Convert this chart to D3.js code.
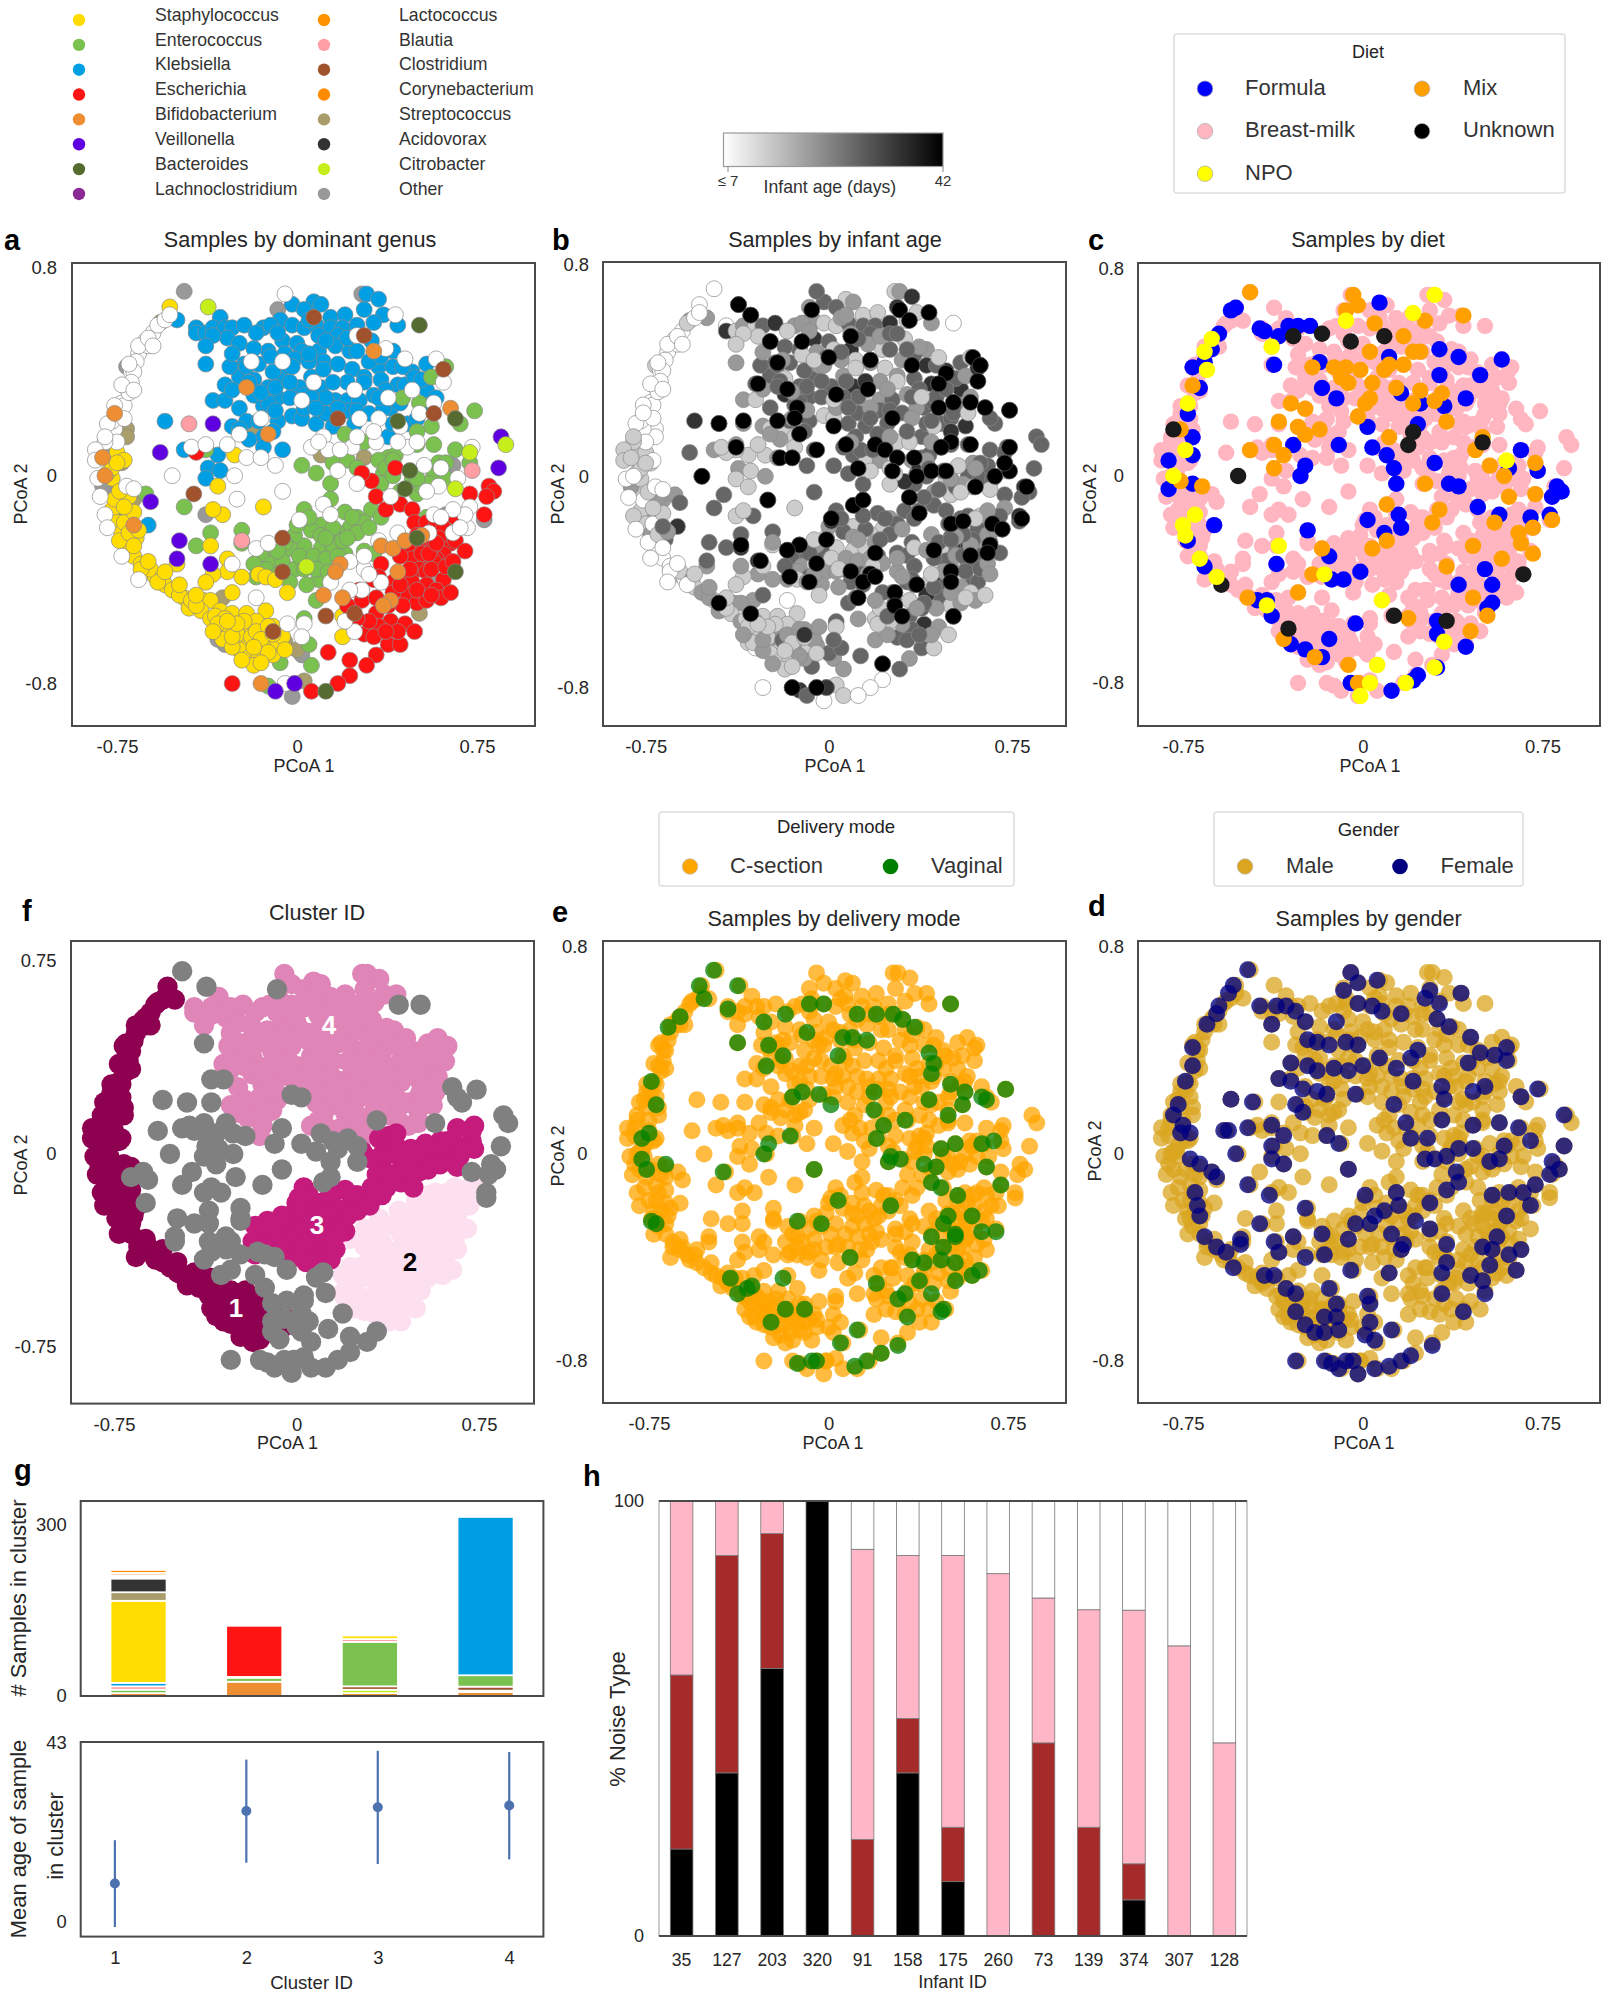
<!DOCTYPE html>
<html>
<head>
<meta charset="utf-8">
<script src="https://d3js.org/d3.v7.min.js"></script>
<style>
  body { margin: 0; background: #fff; }
  text { font-family: "Liberation Sans", Arial, sans-serif; fill: #262626; }
</style>
</head>
<body>
<svg id="fig" width="1620" height="1995"></svg>
<script>
// genus legend
const genusNames = ["Staphylococcus","Enterococcus","Klebsiella","Escherichia","Bifidobacterium","Veillonella","Bacteroides","Lachnoclostridium",
  "Lactococcus","Blautia","Clostridium","Corynebacterium","Streptococcus","Acidovorax","Citrobacter","Other"];
const genusColors = ["#ffdd00","#7ac14f","#009fe3","#ff1414","#ee8e33","#5f00e0","#556b2f","#8b2a96",
  "#ff9200","#ff9fa5","#a0522d","#ff8c00","#a89d6b","#333333","#c6ee1b","#999999"];

// samples by dominant genus: [PCoA1, PCoA2, age in weeks, cluster id (0 = none)]
const klebsiella = [[.29,.70,3,4],[.34,.68,5,4],[-.02,.66,4,4],[.07,.67,2,4],[.03,.64,4,4],[.10,.66,3,4],[.14,.61,2,4],[.20,.62,2,4],[.28,.64,5,4],[.36,.62,2,4],
[-.07,.60,3,4],[-.50,.60,3,1],[.42,.58,3,0],[-.32,.61,5,4],[-.42,.57,1,4],[-.42,.55,5,4],[-.38,.55,2,4],[-.35,.57,3,4],[-.30,.57,2,4],[-.27,.57,4,4],
[-.22,.58,5,4],[-.29,.53,2,4],[-.35,.54,2,4],[-.24,.51,3,4],[-.38,.50,2,4],[-.14,.57,3,4],[-.11,.58,3,4],[-.17,.55,2,4],[-.02,.58,2,4],[.03,.57,2,4],
[.08,.58,4,4],[.14,.57,4,4],[.19,.57,4,4],[.25,.58,5,4],[.32,.59,2,4],[-.06,.52,5,4],[.00,.51,4,4],[.09,.54,3,4],[.17,.54,4,4],[.31,.52,2,4],
[-.12,.48,4,4],[-.05,.47,3,4],[.02,.48,2,4],[.09,.48,5,4],[.16,.50,3,4],[.22,.48,2,4],[.25,.48,4,4],[.40,.48,3,4],[-.38,.43,3,0],[-.22,.43,4,4],
[-.25,.41,4,4],[-.16,.43,4,4],[-.11,.46,2,4],[-.01,.45,4,4],[.11,.44,2,4],[.17,.43,3,4],[.23,.41,2,4],[.34,.42,4,4],[.28,.38,3,4],[.40,.42,5,4],
[.48,.40,5,4],[.54,.43,4,4],[-.30,.35,4,4],[-.24,.38,4,4],[-.21,.42,4,4],[-.18,.37,2,4],[-.12,.34,4,4],[-.06,.37,4,4],[.01,.34,4,4],[.06,.38,3,4],
[.11,.41,2,4],[.21,.36,3,4],[.28,.36,2,4],[.35,.37,4,4],[.42,.35,5,4],[.45,.35,4,4],[.49,.38,5,4],[.54,.33,5,4],[-.18,.31,5,4],[-.35,.29,3,0],
[-.30,.29,2,0],[-.24,.26,4,4],[-.14,.27,4,4],[-.08,.30,4,4],[.03,.31,4,4],[.10,.34,5,4],[.16,.29,2,4],[.21,.29,3,4],[.26,.29,4,4],[.32,.31,3,4],
[.39,.26,4,4],[.43,.28,4,4],[-.08,.21,4,4],[-.02,.23,2,0],[.02,.22,2,0],[.08,.20,4,4],[-.27,.19,3,4],[-.21,.21,2,4],[-.24,.18,2,4],[-.55,.21,5,0],
[-.14,.15,2,4],[-.14,.11,2,4],[-.06,.10,4,0],[-.47,.10,3,0],[-.33,.08,2,0],[-.37,.03,3,0],[-.32,.02,2,0],[-.38,-.01,2,0],[-.62,-.19,5,0],[.38,.15,4,4],
[.46,.20,4,4],[.21,.25,4,4],[.24,.20,4,4],[-.12,.28,4,4],[-.04,.42,3,4],[.15,.36,5,4],[.05,.44,3,4],[.12,.30,4,4],[.30,.44,3,4],[.37,.33,4,4],[-.10,.40,4,4],[.03,.26,3,4],[.12,.24,4,4],
[-.28,.42,4,4],[-.27,.33,3,4],[-.20,.36,4,4],[-.15,.32,3,4],[-.09,.34,4,4],[-.03,.30,4,4],[-.09,.25,3,4],[-.16,.21,4,4],[-.20,.14,3,4],[-.10,.17,4,4],[-.03,.36,4,4],[-.02,.42,3,4],[.06,.30,4,4],
[.08,.26,4,4],[.17,.26,3,4],[.25,.25,4,4],[.30,.24,4,4],[.36,.26,3,4],[.40,.20,4,4],[.15,.19,4,4],[.05,.60,3,4],[.12,.52,4,4],[.21,.53,3,4],[.35,.46,4,4],[.44,.42,4,4],[.52,.37,4,4],[.58,.30,3,4],
[.50,.22,4,4],[.55,.27,4,4],[.34,.30,4,4],[.05,.47,4,4],[-.08,.55,3,4],[-.18,.49,4,4],[-.27,.47,3,4]];

const enterococcus = [[.62,.42,4,4],[.56,.38,3,4],[.44,.30,4,4],[.74,.25,5,0],[.51,.28,2,4],[.68,.20,4,0],[.56,.19,5,4],[.50,.17,5,4],[.20,.16,4,4],[.28,.13,2,4],
[.50,.12,4,4],[.57,.12,4,0],[.66,.10,4,3],[.72,.05,5,3],[.59,.05,3,3],[.62,.05,4,3],[.38,.07,4,3],[.41,.08,4,3],[.34,.06,3,3],[-.38,.10,2,0],
[.02,.04,4,0],[.08,.01,4,0],[.15,.05,2,0],[.21,.06,3,0],[.25,.03,2,0],[.36,.01,4,3],[.37,.03,5,3],[.14,-.03,4,0],[.14,-.09,4,0],[.35,-.03,4,3],
[.48,-.01,2,3],[.50,-.07,2,3],[.52,-.04,4,3],[.57,.00,4,3],[-.63,-.07,3,0],[-.71,-.15,3,1],[-.47,-.12,4,0],[-.42,-.27,4,0],[-.36,-.22,4,0],[-.23,-.21,4,0],
[-.23,-.26,2,0],[.03,-.13,4,3],[.20,-.14,4,3],[.31,-.13,4,3],[.25,-.16,3,3],[.28,-.18,4,3],[.54,-.16,4,2],[.10,-.19,2,3],[.22,-.20,2,3],[.17,-.22,2,3],
[.23,-.16,4,3],[.15,-.20,4,3],[.06,-.21,4,3],[.10,-.23,3,3],[.03,-.27,2,3],[-.01,-.23,2,3],[-.03,-.28,4,3],[.10,-.28,2,3],[.15,-.27,2,3],[.20,-.30,4,3],
[-.13,-.32,4,3],[-.15,-.31,4,3],[-.11,-.34,3,3],[-.06,-.33,2,3],[-.01,-.36,3,3],[.01,-.31,2,3],[.07,-.31,3,3],[.12,-.32,3,3],[.28,-.29,4,2],[.32,-.30,4,2],
[.09,-.40,4,3],[.08,-.36,4,3],[.08,-.48,4,0],[.03,-.55,4,0],[.05,-.65,4,0],[.06,-.73,3,0],[-.07,-.72,4,0],[-.12,-.81,5,0],[.19,-.25,3,3],[.25,-.22,4,3],[.55,-.03,3,3],
[.00,-.19,3,3],[.05,-.16,4,3],[-.05,-.26,3,3],[-.08,-.29,4,3],[-.13,-.36,3,3],[-.18,-.34,4,3],[-.17,-.39,3,3],[-.08,-.38,4,3],[-.03,-.41,3,3],[.04,-.42,3,3],[.13,-.37,4,3],[.17,-.31,3,3],
[.21,-.24,4,3],[.30,-.20,3,3],[.35,-.16,4,3],[.12,-.24,3,3],[.03,-.36,3,3],[.43,-.06,3,3],[.40,.00,4,3],[.50,-.01,3,3],[.60,.03,3,3],[.62,-.01,4,3],[.40,.06,3,3]];

const staphylococcus = [[-.53,.65,1,1],[-.26,.08,2,0],[-.33,-.04,2,0],[-.14,-.12,2,0],[-.31,-.15,4,0],[-.35,-.13,2,0],[-.36,-.27,5,0],[-.50,-.34,3,0],[-.29,-.32,5,0],[-.29,-.37,3,0],
[-.35,-.38,2,0],[-.38,-.41,2,0],[-.27,-.45,4,0],[-.23,-.39,3,0],[-.16,-.38,4,0],[-.13,-.39,2,0],[-.09,-.40,3,0],[-.04,-.45,2,0],[-.13,-.52,2,0],[.19,-.54,2,2],
[.19,-.62,3,0],[-.10,-.58,3,0],[-.14,-.62,2,1],[-.10,-.65,2,0],[-.10,-.69,3,0],
[-.78,.01,2,1],[-.75,.09,2,1],[-.72,.06,1,1],[-.77,-.01,2,1],[-.77,-.13,2,1],[-.76,-.09,1,1],[-.75,-.18,2,1],[-.73,-.22,3,1],[-.72,-.25,1,1],[-.67,-.24,4,1],
[-.71,-.28,1,1],[-.68,-.31,1,1],[-.65,-.34,1,1],[-.62,-.37,2,1],[-.59,-.39,1,1],[-.61,-.36,2,1],[-.56,-.39,3,1],[-.55,-.42,2,1],[-.52,-.44,3,1],[-.47,-.47,2,1],
[-.45,-.51,3,1],[-.42,-.49,4,1],[-.39,-.48,3,1],[-.36,-.48,3,1],[-.40,-.52,2,1],[-.32,-.52,2,1],[-.27,-.53,2,1],[-.21,-.53,2,1],[-.36,-.55,3,1],[-.32,-.58,3,1],
[-.27,-.58,2,1],[-.22,-.59,3,1],[-.17,-.56,2,1],[-.28,-.60,2,1],[-.23,-.63,3,1],[-.20,-.66,2,1],[-.24,-.67,2,1],[-.20,-.70,2,1],[-.16,-.69,2,1],[-.13,-.65,3,1],
[-.74,-.25,1,1],[-.65,-.36,1,1],[-.58,-.41,1,1],[-.49,-.46,3,1],[-.44,-.48,3,1],[-.42,-.50,2,1],[-.34,-.54,2,1],[-.30,-.55,3,1],[-.25,-.61,2,1],[-.19,-.62,4,1],
[-.17,-.60,3,1],[-.79,.01,2,1],[-.77,.03,2,1],[-.75,.05,2,1],[-.08,-.64,2,1],[-.12,-.58,3,1],[-.31,-.63,2,1],[-.27,-.66,3,1],[-.18,-.73,2,1],[-.23,-.71,3,1],
[-.33,-.57,2,1],[-.27,-.62,3,1],[-.22,-.56,2,1],[-.15,-.63,2,1],[-.12,-.68,3,1],[-.15,-.72,2,1],[-.06,-.62,3,1],[-.18,-.66,2,1],[-.25,-.57,2,1],[-.35,-.60,3,1],[-.29,-.56,2,1],[-.05,-.67,2,1],[-.10,-.61,2,1],
[-.72,-.18,1,1],[-.70,-.22,2,1],[-.66,-.21,3,1],[-.68,-.14,2,1],[-.70,-.08,3,1],[-.74,-.06,2,1],[-.72,-.12,2,1],[-.68,-.27,1,1],[-.62,-.33,1,1],[-.55,-.37,2,1],[-.49,-.42,3,1],[-.42,-.46,2,1]];

const escherichia = [[.41,.03,4,3],[.31,-.02,5,3],[.27,.01,2,3],[.33,-.08,4,3],[.43,-.11,4,3],[.48,-.13,4,3],[.37,-.13,4,3],[.49,-.18,4,2],[.54,-.18,3,2],[.58,-.19,2,2],
[.66,-.16,3,2],[.61,-.20,4,2],[.72,-.07,4,0],[.80,-.04,5,0],[.82,-.06,4,0],[.79,-.08,4,0],[.78,-.15,5,0],[-.42,.09,2,0],[.64,-.26,3,2],[.66,-.25,4,2],
[.70,-.29,4,2],[.59,-.24,4,2],[.55,-.25,5,2],[.50,-.28,4,2],[.46,-.27,2,2],[.61,-.30,4,2],[.52,-.34,2,2],[.58,-.32,4,2],[.48,-.32,4,2],[.43,-.31,4,2],
[.35,-.34,4,2],[.34,-.39,4,2],[.40,-.41,2,2],[.51,-.36,3,2],[.54,-.37,2,2],[.61,-.40,4,2],[.45,-.39,5,2],[.48,-.41,4,2],[.54,-.42,3,2],[.58,-.44,2,2],
[.46,-.46,4,2],[.50,-.49,2,2],[.54,-.48,3,2],[.60,-.47,3,2],[.64,-.45,2,2],[.40,-.45,5,2],[.27,-.48,4,2],[.21,-.50,2,2],[.33,-.53,4,2],[.39,-.56,5,2],
[.45,-.57,3,2],[.34,-.58,4,2],[.28,-.61,4,2],[.32,-.62,4,2],[.38,-.65,4,2],[.43,-.65,2,2],[.49,-.60,2,2],[.13,-.68,4,0],[.22,-.71,2,0],[.33,-.69,3,0],
[.29,-.73,4,0],[.22,-.77,1,0],[.17,-.80,1,0],[.06,-.83,2,0],[-.27,-.80,1,0],[-.01,-.80,5,0],[.57,-.33,4,2],[.57,-.27,5,2],
[.52,-.30,3,2],[.56,-.36,4,2],[.47,-.36,3,2],[.43,-.42,4,2],[.50,-.44,3,2],[.56,-.46,2,2],[.62,-.35,4,2],[.65,-.33,3,2],[.55,-.30,4,2],[.58,-.26,3,2],
[.50,-.23,4,2],[.44,-.50,3,2],[.38,-.50,4,2],[.33,-.47,2,2],[.42,-.60,3,2],[.37,-.60,4,2],[.30,-.56,3,2],[.25,-.55,2,2],[.26,-.44,3,2],[.32,-.40,4,2]];

const unassigned = [[-.60,.55,1,1],[-.63,.52,1,1],[-.64,.50,1,1],[-.66,.47,1,1],[-.67,.44,1,1],[-.69,.40,1,1],[-.68,.40,1,1],[-.71,.34,1,1],[-.69,.36,1,1],[-.73,.28,1,1],
[-.74,.24,1,1],[-.72,.27,1,1],[-.76,.18,1,1],[-.75,.13,1,1],[-.71,-.04,1,1],[-.68,-.05,1,1],[-.58,.58,2,1],[-.62,.50,1,1],[-.70,.32,1,1],[-.77,.21,1,1],
[-.80,.13,2,1],[-.84,.10,2,1],[-.84,.06,2,1],[-.83,-.01,1,1],[-.82,-.08,1,1],[-.80,-.15,2,1],[-.79,-.20,1,1],[-.73,-.31,1,1],[-.66,-.40,1,1],
[-.66,.50,1,1],[-.70,.43,1,1],[-.73,.35,1,1],[-.76,.27,1,1],[-.79,.20,1,1],[-.80,.15,2,1],[-.62,.53,1,1],[-.55,.60,1,1],[-.53,.62,1,1],[-.60,.50,1,1],[-.68,.33,1,1],[-.72,.22,1,1],
[-.05,.70,4,4],[.41,.62,3,4],[.25,.54,4,4],[.37,.49,3,4],[.45,.45,2,4],[-.06,.44,2,4],[.58,.45,2,4],[.07,.36,4,4],[.24,.33,3,4],[.38,.30,2,4],
[.48,.33,4,4],[.61,.36,2,4],[.57,.28,3,4],[.51,.24,4,4],[.26,.22,4,4],[.34,.22,3,4],[-.15,.22,3,4],[.02,.29,2,4],[-.19,.44,3,4],[.43,.19,2,4],
[.11,.15,4,4],[.06,.11,4,4],[.23,.11,2,4],[.33,.13,2,0],[.46,.11,4,4],[.50,.13,3,4],[.73,.11,4,3],[-.44,.11,2,0],[-.38,.12,3,0],[-.29,.12,2,0],
[-.21,.07,3,0],[-.24,.16,3,4],[-.15,.07,2,4],[-.09,.04,4,0],[-.26,.00,3,0],[-.52,.00,4,0],[-.25,-.09,2,0],[-.06,-.06,4,0],[.17,.02,2,0],[.25,-.03,2,0],
[.11,-.11,4,0],[.14,-.15,4,3],[.01,-.17,5,3],[.39,-.08,4,3],[.53,.04,2,3],[.60,.03,3,3],[.59,-.04,2,3],[.54,-.06,2,3],[.67,-.01,4,3],[.72,-.12,3,2],
[.71,-.20,5,2],[.65,-.22,3,2],[.57,-.15,4,2],[-.17,-.28,4,3],[-.12,-.26,2,3],[-.27,-.34,2,0],[.14,-.41,4,3],[.28,-.36,3,2],[.27,-.44,1,2],[.35,-.41,4,2],
[-.17,-.47,1,0],[-.04,-.57,3,0],[.03,-.57,2,0],[.02,-.62,4,0],[-.05,-.80,1,0],
[.22,-.33,3,2],[.28,-.31,3,2],[.22,-.44,4,2],[.24,-.60,3,2],[.20,-.56,2,2],[.30,-.38,3,2],[.70,-.15,4,2],[.65,-.13,3,2],[.60,-.16,2,2],[.68,-.20,3,2],[.55,-.22,4,2],[.34,-.25,4,2],[.42,-.22,3,2],
[.13,.10,4,4],[.18,.10,4,4],[.25,.15,3,4],[.32,.17,4,4],[.09,.13,3,4],[.42,.13,3,4]];

const bifidobacterium = [[-.76,.24,1,1],[-.81,.07,2,1],[-.80,.00,1,1],[-.68,-.19,4,1],[-.21,.34,4,4],[-.12,.16,5,4],[.64,.26,3,0],[.11,-.46,4,0],[.18,-.34,2,2],[.16,-.37,3,3],
[.19,-.47,3,2],[.35,-.27,2,2],[.40,-.28,3,2],[.45,-.25,4,2],[.39,-.48,4,2],[.36,-.50,3,2],[.52,-.23,3,2],[.42,-.37,2,2],[-.15,-.80,5,0],[.32,.48,4,4]];
const veillonella = [[.85,.15,4,0],[.84,.03,4,0],[-.35,.20,3,0],[-.57,.09,4,0],[-.61,-.10,4,0],[-.49,-.25,4,0],[-.50,-.32,4,0],[-.36,-.34,3,0],[-.01,-.80,5,0],[-.09,-.83,4,0]];
const bacteroides = [[.51,.58,1,0],[.42,.21,4,4],[.66,.22,4,0],[.47,.02,4,3],[.45,-.05,4,3],[.50,-.24,4,2],[.66,-.37,3,2],[.12,-.83,1,0]];
const blautia = [[-.45,.20,4,0],[-.23,-.25,3,0],[.73,.02,2,3]];
const clostridium = [[.28,.54,4,4],[.61,.41,5,4],[.57,.24,2,4],[.17,.22,4,4],[-.43,-.07,4,0],[-.06,-.24,2,3],[-.06,-.37,3,3],[-.10,-.60,5,1],[.24,-.53,4,2],[.12,-.54,3,0],[.07,.61,3,4]];
const streptococcus = [[-.57,.59,3,1],[-.71,.18,1,1],[-.71,.15,1,1],[-.73,.05,2,1],[-.68,-.09,3,0],[-.18,.17,2,4],[.10,.08,4,0],[.28,.07,3,4],[-.31,-.47,3,0],[-.17,-.60,3,1],[-.05,-.64,3,0],[.00,-.67,4,0],[.03,-.79,2,0],[.51,-.53,2,2],[-.07,.58,3,4]];
const citrobacter = [[-.37,.65,5,0],[.87,.12,4,0],[.66,-.05,2,3],[.04,-.35,2,3],[.72,.09,4,3]];
const other = [[-.47,.71,1,0],[-.08,.64,3,0],[.27,.70,2,4],[-.71,.42,2,1],[-.81,.10,2,1],[-.79,-.06,2,1],[-.81,-.04,3,1],[-.38,-.15,2,0],[.65,.04,4,3],[.62,-.15,2,2],[.78,-.17,4,0],[-.33,-.63,2,1],[-.30,-.65,1,1],[.02,-.69,3,0],[-.02,-.85,1,0],[.57,-.41,4,2]];

// draw order of panel a
const genusGroups = [
  [other, "#999999"], [streptococcus, "#a89d6b"], [klebsiella, "#009fe3"], [enterococcus, "#7ac14f"], [staphylococcus, "#ffdd00"], [escherichia, "#ff1414"],
  [unassigned, "#ffffff"], [bifidobacterium, "#ee8e33"], [clostridium, "#a0522d"], [bacteroides, "#556b2f"], [veillonella, "#5f00e0"], [blautia, "#ff9fa5"], [citrobacter, "#c6ee1b"]];

// oldest samples (42 days)
const ageOldest = [[-.37,.65],[-.32,.61],[-.07,.63],[-.24,.51],[-.11,.51],[.09,.53],[.29,.63],[.41,.62],[.33,.59],[.59,.45],[.62,.42],[.61,.36],[-.21,.43],[.00,.45],[.17,.44],[.34,.42],[.48,.39],[.45,.35],
[-.29,.35],[-.17,.33],[.03,.31],[.16,.33],[-.13,.26],[.58,.28],[.51,.28],[.64,.26],[.74,.25],[.45,.26],[.26,.22],[.02,.19],[-.14,.22],[-.21,.21],[-.35,.21],[-.45,.20],[-.12,.16],[.07,.12],[.58,.12],[.74,.11],
[.50,.13],[.46,.11],[-.38,.11],[-.05,.10],[.19,.12],[.23,.10],[-.20,.07],[-.15,.07],[.28,.07],[.35,.07],[.12,.03],[.26,.02],[.36,.00],[.42,.02],[.48,.02],[.68,.00],[.74,.02],[.72,.05],[-.52,.00],[-.25,-.09],
[.10,-.11],[.14,-.09],[.33,-.08],[.60,-.04],[.81,-.04],[.37,-.14],[.79,-.16],[.50,-.18],[.55,-.17],[.67,-.18],[.71,-.20],[.01,-.16],[-.36,-.26],[-.12,-.26],[-.17,-.28],[-.01,-.24],[.66,-.26],[.65,-.29],
[-.28,-.32],[-.05,-.33],[.19,-.29],[.43,-.28],[.58,-.30],[-.16,-.38],[-.08,-.40],[.09,-.36],[.17,-.37],[.14,-.40],[.19,-.38],[.36,-.41],[.50,-.36],[.50,-.40],[.27,-.44],[.12,-.46],[-.45,-.48],[-.32,-.52],
[.27,-.49],[.30,-.53],[.51,-.53],[.22,-.71],[-.05,-.80],[-.15,-.80]];

// diet categories (everything else is breast-milk)
const dietFormula = [[-.53,.65],[-.55,.64],[-.60,.55],[-.63,.49],[-.66,.44],[-.71,.42],[-.68,.34],[-.73,.24],[-.71,.15],[-.71,.08],[-.81,.06],[-.71,-.03],[-.81,-.05],[-.62,-.19],[-.73,-.25],[-.66,-.35],
[-.43,.57],[-.41,.56],[-.35,.54],[-.31,.58],[-.27,.58],[-.22,.58],[-.37,.43],[-.18,.44],[-.17,.34],[-.11,.30],[.07,.67],[.11,.46],[.16,.32],[.24,.28],[.34,.27],[.32,.39],[.32,.49],[.40,.46],[.58,.45],[.49,.39],
[.43,.30],[.02,.19],[.23,.20],[-.10,.12],[-.29,.12],[-.24,.04],[-.26,.00],[.10,.08],[.13,.03],[.14,-.03],[.04,.11],[.30,.05],[.36,-.03],[.40,-.04],[.48,-.12],[.66,.10],[.61,.03],[.73,.02],[.81,-.04],[.83,-.06],
[.79,-.08],[.78,-.15],[.70,-.16],[.57,-.15],[.15,-.15],[.02,-.17],[.09,-.22],[.16,-.20],[-.23,-.21],[-.14,-.31],[-.36,-.34],[-.01,-.37],[-.08,-.40],[-.13,-.40],[.40,-.42],[.51,-.36],[.54,-.42],[.54,-.49],
[.52,-.51],[.31,-.56],[.31,-.61],[-.44,-.48],[-.40,-.48],[-.38,-.54],[-.03,-.57],[-.14,-.63],[-.30,-.65],[-.24,-.67],[-.17,-.70],[-.05,-.80],[.12,-.83],[.21,-.79],[.23,-.77],[.43,-.66],[.31,-.74]];
const dietMix = [[-.47,.71],[-.04,.70],[-.02,.66],[-.07,.64],[.42,.62],[.26,.60],[.05,.59],[.17,.54],[.03,.48],[.11,.43],[.09,.41],[.17,.43],[.24,.48],[.21,.48],[-.21,.42],[-.12,.42],[-.07,.42],[-.01,.41],
[-.09,.38],[-.06,.36],[.04,.36],[.14,.34],[.24,.33],[.33,.32],[.03,.30],[.01,.28],[.21,.28],[.30,.29],[-.30,.28],[-.24,.26],[-.35,.21],[-.27,.19],[-.24,.16],[-.18,.18],[-.02,.23],[.35,.21],[.11,.15],[.50,.15],
[.47,.10],[-.47,.10],[-.37,.12],[-.33,.08],[-.37,.03],[.53,.04],[.59,.00],[.72,.05],[.26,-.03],[.61,-.08],[.72,-.07],[.10,-.11],[.32,-.13],[.29,-.18],[.55,-.18],[.65,-.22],[.71,-.20],[.79,-.17],[.66,-.26],
[.71,-.30],[.46,-.27],[.58,-.32],[-.17,-.28],[.10,-.25],[.04,-.28],[.35,-.35],[-.21,-.38],[-.27,-.45],[.46,-.47],[-.48,-.47],[-.67,-.04],[-.76,-.02],[-.76,.18],[-.71,.35],[.19,-.55],[.52,-.54],[.45,-.60],
[-.33,-.63],[-.20,-.70],[-.06,-.73],[-.02,-.80]];
const dietNPO = [[.30,.70],[.21,.63],[-.07,.60],[-.38,.50],[-.63,.53],[-.66,.48],[-.65,.41],[-.73,.28],[-.74,.10],[-.79,.00],[-.70,-.15],[-.75,-.19],[-.74,-.23],[-.68,-.32],[-.61,-.39],[-.35,-.27],[-.40,-.50],
[-.16,-.38],[.08,-.48],[.60,.06],[.34,-.64],[.30,-.74],[.06,-.73],[.03,-.80],[-.01,-.85],[.18,-.80]];
const dietUnknown = [[-.29,.54],[-.17,.55],[-.05,.52],[.09,.54],[.21,.17],[.19,.12],[.50,.13],[-.52,.00],[-.79,.18],[.67,-.38],[-.59,-.42],[.13,-.54],[.35,-.56],[-.31,-.59]];

// vaginal births (everything else is C-section)
const deliveryVaginal = [[-.48,.71],[-.54,.65],[-.52,.60],[-.38,.65],[.51,.58],[-.42,.56],[-.02,.58],[-.08,.58],[-.18,.54],[-.27,.51],[-.62,.53],[-.67,.49],[-.38,.43],[-.25,.42],[-.19,.38],[-.26,.34],[.12,.54],[.20,.54],[.27,.54],
[.31,.52],[.36,.49],[.06,.45],[.10,.45],[.16,.44],[-.09,.47],[.04,.38],[.42,.39],[.44,.35],[.43,.31],[.51,.27],[.57,.24],[.56,.19],[.74,.25],[.66,.21],[.64,.22],[.42,.21],[.50,.15],[-.15,.22],[-.11,.24],[-.04,.23],
[.01,.19],[.19,.24],[.19,.17],[.23,.11],[.32,.13],[.20,.06],[.47,.02],[.53,.04],[.64,.04],[.69,.05],[-.16,.07],[-.25,.04],[-.27,.00],[.26,-.01],[.30,-.02],[.25,-.03],[.66,-.05],[-.06,-.06],[-.44,-.07],[.40,-.04],
[.45,-.05],[.43,-.11],[.47,-.13],[.72,-.12],[.54,-.16],[.04,-.18],[.26,-.20],[-.13,-.26],[-.03,-.27],[.60,-.24],[.50,-.24],[.48,-.27],[.70,-.30],[.64,-.30],[.53,-.31],[.43,-.32],[.48,-.36],[.53,-.32],[.09,-.40],
[.35,-.41],[.40,-.42],[.47,-.41],[.53,-.42],[.60,-.47],[.63,-.45],[.38,-.49],[.53,-.49],[-.19,-.48],[-.41,-.48],[-.34,-.52],[-.32,-.51],[-.38,-.54],[.20,-.50],[.32,-.54],[.29,-.56],[.43,-.54],[.33,-.63],[.48,-.60],
[.47,-.61],[-.18,-.60],[-.10,-.60],[-.24,-.65],[.12,-.68],[.05,-.73],[.29,-.74],[.22,-.77],[.16,-.80],[.11,-.82],[-.13,-.81],[-.07,-.80],[-.05,-.80],[-.74,-.26],[-.72,-.27],[-.68,-.04],[-.78,-.02],[-.76,-.06],[-.74,.28],[-.75,.08],[-.78,.06],[-.72,.19]];

// female infants (everything else is male)
const genderFemale = [[-.48,.71],[-.54,.65],[-.56,.62],[-.60,.57],[-.61,.54],[-.65,.50],[-.71,.41],[-.71,.34],[-.74,.28],[-.77,.19],[-.79,.15],[-.75,.11],[-.76,.08],[-.72,.08],[-.72,-.02],[-.68,-.04],[-.63,-.07],[-.61,-.09],[-.70,-.15],
[-.69,-.20],[-.68,-.24],[-.66,-.32],[-.61,-.36],[-.57,-.38],[-.54,-.44],[-.56,.09],[-.58,.09],[-.53,.00],[-.48,.10],[-.46,.20],[-.55,.21],[-.43,.57],[-.36,.57],[-.32,.57],[-.28,.55],[-.24,.51],[-.38,.50],[-.23,.44],[-.19,.43],
[-.14,.42],[-.07,.43],[-.02,.42],[-.11,.51],[-.08,.63],[-.05,.70],[-.02,.66],[.06,.67],[-.02,.58],[.04,.57],[.08,.55],[.16,.54],[.28,.63],[.41,.62],[.32,.58],[.26,.60],[.31,.52],[.36,.49],[.45,.45],[.49,.39],[.44,.35],
[.55,.38],[.60,.41],[.60,.36],[.73,.25],[.66,.22],[.51,.26],[.46,.24],[.34,.21],[.33,.26],[.23,.40],[.20,.37],[.14,.33],[.21,.28],[.07,.37],[.00,.34],[-.06,.32],[-.12,.33],[-.19,.32],[-.23,.34],[-.30,.35],[-.35,.29],
[-.30,.28],[-.25,.25],[-.19,.24],[-.15,.23],[-.28,.19],[-.25,.16],[-.03,.23],[.13,.19],[.18,.12],[.33,.13],[.46,.11],[.57,.12],[.65,.10],[.84,.03],[.84,.15],[.70,.05],[.59,.03],[.57,-.02],[.53,-.03],[.46,.02],[.40,.02],
[.35,-.01],[.30,-.02],[.26,-.02],[.20,.06],[.27,.06],[-.10,.04],[-.15,.07],[-.33,.07],[-.38,.11],[-.38,.03],[-.38,-.02],[-.33,-.04],[-.06,-.06],[-.48,-.12],[-.39,-.16],[-.24,-.21],[.01,-.16],[.14,-.15],[.39,-.07],[.35,-.14],
[.40,-.11],[.28,-.19],[.54,-.16],[.61,-.15],[.67,-.15],[.72,-.12],[.79,-.03],[.82,-.06],[.78,-.08],[.70,-.20],[.60,-.24],[.15,-.20],[.09,-.22],[.05,-.24],[-.03,-.27],[.03,-.27],[.12,-.31],[.22,-.26],[.28,-.29],[-.43,-.27],
[-.51,-.33],[-.51,-.35],[-.37,-.34],[-.35,-.38],[-.29,-.32],[-.17,-.31],[-.16,-.39],[-.24,-.40],[-.06,-.33],[.16,-.37],[.17,-.35],[.35,-.35],[.35,-.42],[.33,-.46],[.50,-.36],[.56,-.32],[.54,-.37],[.61,-.39],[.66,-.37],
[.53,-.43],[.64,-.45],[.50,-.49],[.45,-.47],[.33,-.54],[.51,-.54],[.42,-.61],[-.05,-.45],[.11,-.46],[.02,-.55],[.03,-.58],[.03,-.65],[-.14,-.52],[-.11,-.58],[-.11,-.63],[-.10,-.68],[-.16,-.63],[-.28,-.61],[-.24,-.66],
[-.20,-.69],[-.16,-.69],[-.37,-.47],[-.32,-.52],[-.28,-.54],[-.41,-.47],[.12,-.68],[.01,-.70],[.05,-.72],[.29,-.74],[.20,-.78],[.16,-.80],[.11,-.82],[.05,-.83],[-.02,-.85],[-.04,-.80],[-.07,-.80],[-.10,-.83],[-.13,-.81],[-.16,-.80],[-.28,-.80]];

// panel g, stacks of each cluster from the bottom up
const clusterIds = ["1","2","3","4"];
const clusterStacks = [
  [["Bifidobacterium",5],["Enterococcus",6],["Blautia",6],["Klebsiella",6],["Staphylococcus",144],["Streptococcus",15],["Acidovorax",24],["Veillonella",3],["Bacteroides",3],["Lactococcus",4],["Corynebacterium",5]],
  [["Bifidobacterium",25],["Enterococcus",7],["Staphylococcus",1.5],["Escherichia",90],["Blautia",2]],
  [["Bifidobacterium",5],["Citrobacter",6],["Clostridium",6],["Enterococcus",78],["Blautia",5],["Staphylococcus",6]],
  [["Bifidobacterium",7],["Blautia",2.4],["Clostridium",7],["Enterococcus",20],["Klebsiella",278],["Other",3]]];
const clusterAgeMean = [9.2, 26.6, 27.5, 27.9];
const clusterAgeLow = [-1.2, 14.2, 13.9, 15];
const clusterAgeHigh = [19.6, 38.9, 41, 40.7];

// panel h
const infantIds = ["35","127","203","320","91","158","175","260","73","139","374","307","128"];
const noiseBlack = [20,37.5,61.5,100,0,37.5,12.5,0,0,0,8.3,0,0];
const noiseBrown = [40,50,31,0,22.2,12.5,12.5,0,44.4,25,8.3,0,0];
const noisePink = [40,12.5,7.5,0,66.7,37.5,62.5,83.3,33.3,50,58.3,66.7,44.4];
const noiseWhite = [0,0,0,0,11.1,12.5,12.5,16.7,22.3,25,25.1,33.3,55.6];

const dietLegend = [["Formula","#0000ff"],["Breast-milk","#ffb6c1"],["NPO","#ffff00"],["Mix","#ffa000"],["Unknown","#000000"]];

const svg = d3.select("#fig");
const samples = genusGroups.flatMap(g => g[0]);

const label = (x, y, str, size, opts = {}) => svg.append("text")
  .attr("x", x).attr("y", y).attr("font-size", size)
  .attr("text-anchor", opts.anchor || "start")
  .attr("dominant-baseline", "central")
  .attr("font-weight", opts.weight || null)
  .style("fill", opts.fill || null)
  .text(str);

const vlabel = (x, y, str, size) => svg.append("text")
  .attr("transform", `translate(${x},${y}) rotate(-90)`)
  .attr("font-size", size).attr("text-anchor", "middle")
  .attr("dominant-baseline", "central").text(str);

const frame = (x0, x1, y0, y1) => svg.append("rect")
  .attr("x", x0).attr("y", y0).attr("width", x1 - x0).attr("height", y1 - y0)
  .attr("fill", "none").attr("stroke", "#4a4a4a").attr("stroke-width", 2);

const fmt = d => d === 0 ? "0" : String(d);

function scatterPanel(p) {
  const yMax = p.yMax || 0.8;
  const x = d3.scaleLinear().domain([-0.75, 0.75]).range(p.xTicks);
  const y = d3.scaleLinear().domain([-yMax, yMax]).range(p.yTicks);
  const layer = svg.append("g");

  svg.append("g").attr("transform", `translate(0,${p.box[3]})`)
    .call(d3.axisBottom(x).tickValues([-0.75, 0, 0.75]).tickSize(0).tickPadding(14).tickFormat(fmt))
    .call(g => g.select(".domain").remove())
    .call(g => g.selectAll("text").attr("font-size", 18.4).attr("font-family", null));
  svg.append("g").attr("transform", `translate(${p.box[0]},0)`)
    .call(d3.axisLeft(y).tickValues([-yMax, 0, yMax]).tickSize(0).tickPadding(p.box[0] - p.tickRight).tickFormat(fmt))
    .call(g => g.select(".domain").remove())
    .call(g => g.selectAll("text").attr("font-size", 18.4).attr("font-family", null));

  frame(p.box[0], p.box[1], p.box[2], p.box[3]);
  label(p.titleX, p.titleY, p.title, 21.6, { anchor: "middle" });
  label(p.letter[0], p.letter[1], p.letter[2], 29, { weight: "bold", fill: "#000" });
  label(p.xlabel[0], p.xlabel[1], "PCoA 1", 18, { anchor: "middle" });
  vlabel(p.ylabel[0], p.ylabel[1], "PCoA 2", 18);

  const dots = (rows, fill, r, opacity, stroke) => layer.append("g").selectAll("circle")
    .data(rows).join("circle")
    .attr("cx", d => x(d[0])).attr("cy", d => y(d[1])).attr("r", r)
    .attr("fill", fill)
    .attr("fill-opacity", opacity)
    .attr("stroke", stroke || "none").attr("stroke-width", 0.7);
  p.draw(dots);
}

const ageColor = d3.scaleLinear().domain([7, 42]).range(["#ffffff", "#000000"]);
const clusterColors = { 0: "#808080", 1: "#8e0150", 2: "#fde0ef", 3: "#c51b7d", 4: "#e085b7" };

scatterPanel({
  box: [72, 535, 263, 726], xTicks: [117, 477], yTicks: [683.5, 268], tickRight: 57,
  title: "Samples by dominant genus", titleX: 300, titleY: 239, letter: [4, 240, "a"], xlabel: [304, 766], ylabel: [21, 494],
  draw: dots => genusGroups.forEach(g => dots(g[0], g[1], 8, 1, "#8a8a8a"))
});
scatterPanel({
  box: [603, 1066, 262, 726], xTicks: [645.7, 1012], yTicks: [687.6, 265], tickRight: 589,
  title: "Samples by infant age", titleX: 835, titleY: 239, letter: [552, 240, "b"], xlabel: [835, 766], ylabel: [558, 494],
  draw: dots => {
    dots(samples, d => ageColor(d[2] * 7), 8, 1, "#8a8a8a");
    dots(ageOldest, "#000000", 8, 1, "#555");
  }
});
scatterPanel({
  box: [1138, 1600, 263, 726], xTicks: [1183, 1542.5], yTicks: [683, 269], tickRight: 1124,
  title: "Samples by diet", titleX: 1368, titleY: 239, letter: [1088, 240, "c"], xlabel: [1370, 766], ylabel: [1090, 494],
  draw: dots => {
    dots(samples, "#ffb6c1", 8.2, 1);
    dots(dietFormula, "#0000ff", 8.2, 1);
    dots(dietMix, "#ffa000", 8.2, 1);
    dots(dietUnknown, "#1a1a1a", 8.2, 1);
    dots(dietNPO, "#ffff00", 8.2, 1);
  }
});
scatterPanel({
  box: [71, 534, 941, 1403.6], xTicks: [114, 479], yTicks: [1347, 961], yMax: 0.75, tickRight: 56.5,
  title: "Cluster ID", titleX: 317, titleY: 912, letter: [22, 911, "f"], xlabel: [287.5, 1443], ylabel: [21, 1165],
  draw: dots => {
    [4, 2, 3, 1, 0].forEach(c => dots(samples.filter(d => d[3] === c), clusterColors[c], 10.2, 1));
  }
});
scatterPanel({
  box: [603, 1066, 941, 1403], xTicks: [649, 1008], yTicks: [1361, 947], tickRight: 587.5,
  title: "Samples by delivery mode", titleX: 834, titleY: 918, letter: [552, 912, "e"], xlabel: [833, 1443], ylabel: [558, 1156],
  draw: dots => {
    dots(samples, "#ffa500", 8.5, 0.75);
    dots(deliveryVaginal, "#008000", 8.5, 0.75);
  }
});
scatterPanel({
  box: [1138, 1600, 941, 1403], xTicks: [1183, 1542.5], yTicks: [1361, 946.5], tickRight: 1124,
  title: "Samples by gender", titleX: 1368.6, titleY: 918, letter: [1088, 906, "d"], xlabel: [1364, 1443], ylabel: [1094.5, 1151],
  draw: dots => {
    dots(samples, "#daa520", 8.5, 0.75);
    dots(genderFemale, "#000080", 8.5, 0.78);
  }
});

// cluster numbers on panel f
[[329, 1025, "4", "#fff"], [410, 1261.5, "2", "#000"], [317, 1225, "3", "#fff"], [236, 1308, "1", "#fff"]]
  .forEach(c => label(c[0], c[1], c[2], 26, { anchor: "middle", weight: "bold", fill: c[3] }));

// genus legend
genusNames.forEach((name, i) => {
  const col = i < 8 ? 0 : 1, row = i % 8;
  svg.append("circle").attr("cx", col ? 324 : 79).attr("cy", 20 + row * 24.85).attr("r", 6.2).attr("fill", genusColors[i]);
  label(col ? 399 : 155, 14.7 + row * 24.85, name, 17.7, { fill: "#333" });
});

// age colour bar
const defs = svg.append("defs");
const grad = defs.append("linearGradient").attr("id", "ageGrad");
grad.append("stop").attr("offset", "0%").attr("stop-color", "#fff");
grad.append("stop").attr("offset", "100%").attr("stop-color", "#000");
svg.append("rect").attr("x", 723.5).attr("y", 133).attr("width", 219.5).attr("height", 33.5)
  .attr("fill", "url(#ageGrad)").attr("stroke", "#9a9a9a").attr("stroke-width", 1.2);
svg.append("line").attr("x1", 728).attr("x2", 728).attr("y1", 166.5).attr("y2", 172).attr("stroke", "#888");
svg.append("line").attr("x1", 943).attr("x2", 943).attr("y1", 166.5).attr("y2", 172).attr("stroke", "#888");
label(728, 180, "≤ 7", 15, { anchor: "middle", fill: "#333" });
label(943, 180, "42", 15, { anchor: "middle", fill: "#333" });
label(763.5, 187, "Infant age (days)", 17.7, { fill: "#333" });

// boxed legends
const legendBox = (x0, x1, y0, y1) => svg.append("rect")
  .attr("x", x0).attr("y", y0).attr("width", x1 - x0).attr("height", y1 - y0).attr("rx", 3)
  .attr("fill", "#fff").attr("stroke", "#dedede").attr("stroke-width", 1.6);
const legendEntry = (mx, my, lx, ly, name, color, stroke) => {
  svg.append("circle").attr("cx", mx).attr("cy", my).attr("r", 7.8).attr("fill", color)
    .attr("stroke", stroke || "none").attr("stroke-width", 0.7);
  label(lx, ly, name, 22, { fill: "#333" });
};
legendBox(1174, 1565, 34, 193);
label(1368, 52, "Diet", 18, { anchor: "middle", fill: "#222" });
dietLegend.forEach((d, i) => {
  const col = i < 3 ? 0 : 1, row = col ? i - 3 : i;
  legendEntry(col ? 1422 : 1205, 88.7 + row * 42.5, col ? 1463 : 1245, 87 + row * 42.5, d[0], d[1], "#aaa");
});
legendBox(659, 1014, 812, 886);
label(836, 826, "Delivery mode", 18.5, { anchor: "middle", fill: "#222" });
legendEntry(690, 866.5, 730, 865, "C-section", "#ffa500", "#bbb");
legendEntry(890.5, 866.5, 931, 865, "Vaginal", "#008000");
legendBox(1214, 1523, 812, 886);
label(1368.6, 829.5, "Gender", 18.5, { anchor: "middle", fill: "#222" });
legendEntry(1245, 866.5, 1286, 865, "Male", "#daa520", "#bbb");
legendEntry(1400, 866.5, 1440.5, 865, "Female", "#000080");

// panel g, top: samples in each cluster
const gX = d3.scaleBand().domain(clusterIds).range([80.7, 543.4]).paddingInner(0.516).paddingOuter(0.258);
const gY = d3.scaleLinear().domain([0, 342]).range([1696, 1501]);
clusterStacks.forEach((stack, i) => {
  let base = 0;
  stack.forEach(seg => {
    svg.append("rect").attr("x", gX(clusterIds[i])).attr("width", gX.bandwidth())
      .attr("y", gY(base + seg[1])).attr("height", gY(base) - gY(base + seg[1]))
      .attr("fill", genusColors[genusNames.indexOf(seg[0])])
      .attr("stroke", "#fff").attr("stroke-width", 1.7);
    base += seg[1];
  });
});
svg.append("g").attr("transform", "translate(80.7,0)")
  .call(d3.axisLeft(gY).tickValues([0, 300]).tickSize(0).tickPadding(14))
  .call(g => g.select(".domain").remove())
  .call(g => g.selectAll("text").attr("font-size", 18.4).attr("font-family", null));
frame(80.7, 543.4, 1501, 1696);

// panel g, bottom: mean age in each cluster
const ageX = d3.scalePoint().domain(clusterIds).range([80.7, 543.4]).padding(0.26);
const ageY = d3.scaleLinear().domain([-3.5, 43]).range([1936.6, 1742.5]);
clusterIds.forEach((c, i) => {
  svg.append("line").attr("x1", ageX(c)).attr("x2", ageX(c))
    .attr("y1", ageY(clusterAgeLow[i])).attr("y2", ageY(clusterAgeHigh[i]))
    .attr("stroke", "#4c72b0").attr("stroke-width", 2.2);
  svg.append("circle").attr("cx", ageX(c)).attr("cy", ageY(clusterAgeMean[i])).attr("r", 5).attr("fill", "#4c72b0");
});
svg.append("g").attr("transform", "translate(80.7,0)")
  .call(d3.axisLeft(ageY).tickValues([0, 43]).tickSize(0).tickPadding(14))
  .call(g => g.select(".domain").remove())
  .call(g => g.selectAll("text").attr("font-size", 18.4).attr("font-family", null));
svg.append("g").attr("transform", "translate(0,1936.6)")
  .call(d3.axisBottom(ageX).tickSize(0).tickPadding(14))
  .call(g => g.select(".domain").remove())
  .call(g => g.selectAll("text").attr("font-size", 18.4).attr("font-family", null));
frame(80.7, 543.4, 1742, 1936.6);
label(14, 1470, "g", 29, { weight: "bold", fill: "#000" });
vlabel(18, 1598, "# Samples in cluster", 21.9);
vlabel(18, 1839, "Mean age of sample", 21.9);
vlabel(55, 1836, "in cluster", 21.9);
label(311.5, 1982, "Cluster ID", 18.6, { anchor: "middle" });

// panel h: noise types per infant
const hX = d3.scaleBand().domain(infantIds).range([659, 1247]).paddingInner(0.5).paddingOuter(0.25);
const hY = d3.scaleLinear().domain([0, 100]).range([1936, 1501]);
const noiseKeys = ["black", "brown", "pink", "white"];
const noiseFill = { black: "#000000", brown: "#a52a2a", pink: "#ffb6c6", white: "#ffffff" };
const noiseRows = infantIds.map((id, i) => ({ id, black: noiseBlack[i], brown: noiseBrown[i], pink: noisePink[i], white: noiseWhite[i] }));
svg.append("g").selectAll("g").data(d3.stack().keys(noiseKeys)(noiseRows)).join("g")
  .attr("fill", s => noiseFill[s.key])
  .selectAll("rect").data(s => s.filter(d => d[1] > d[0])).join("rect")
  .attr("x", d => hX(d.data.id)).attr("width", hX.bandwidth())
  .attr("y", d => hY(d[1])).attr("height", d => hY(d[0]) - hY(d[1]))
  .attr("stroke", "#777").attr("stroke-width", 0.8);
svg.append("g").attr("transform", "translate(659,0)")
  .call(d3.axisLeft(hY).tickValues([0, 100]).tickSize(0).tickPadding(15))
  .call(g => g.select(".domain").remove())
  .call(g => g.selectAll("text").attr("font-size", 18).attr("font-family", null));
svg.append("g").attr("transform", "translate(0,1936)")
  .call(d3.axisBottom(hX).tickSize(0).tickPadding(18))
  .call(g => g.select(".domain").remove())
  .call(g => g.selectAll("text").attr("font-size", 17.6).attr("font-family", null));
svg.append("rect").attr("x", 659).attr("y", 1501).attr("width", 588).attr("height", 435).attr("fill", "none").attr("stroke", "#999").attr("stroke-width", 1);
[1501, 1936].forEach(yy => svg.append("line").attr("x1", 659).attr("x2", 1247).attr("y1", yy).attr("y2", yy).attr("stroke", "#4a4a4a").attr("stroke-width", 2));
label(583, 1476, "h", 29, { weight: "bold", fill: "#000" });
vlabel(617, 1719, "% Noise Type", 22);
label(952.5, 1982, "Infant ID", 18.2, { anchor: "middle" });
</script>
</body>
</html>
